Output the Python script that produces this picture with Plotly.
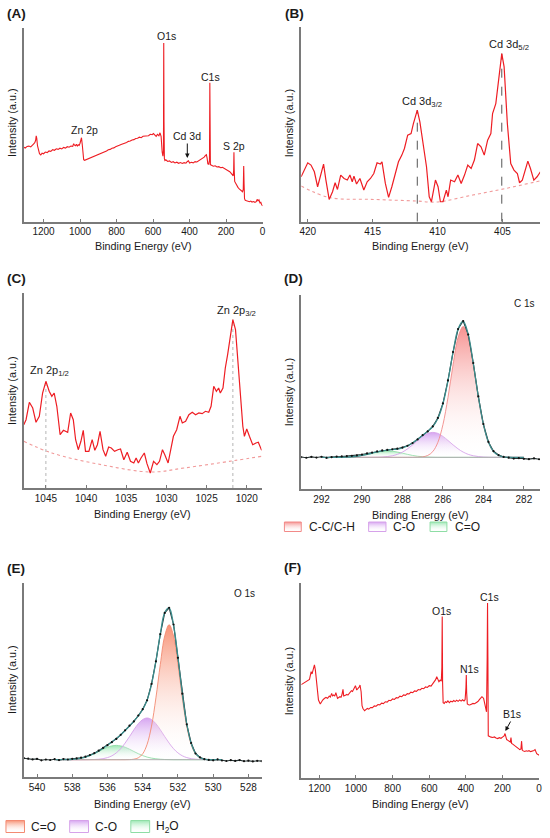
import plotly.graph_objects as go

W, H = 550, 838
FONT = "Liberation Sans, Arial, sans-serif"
RED = "#ee1d23"
AXIS = "#7a7a7a"
TXT = "#1a1a1a"

# ---------------- data ----------------
# (A) survey spectrum, binding energy (eV) / intensity (a.u.)
A_E = [1308, 1300, 1290, 1280, 1270, 1262, 1255, 1248, 1243, 1240,
       1237, 1233, 1228, 1222, 1215, 1208, 1200, 1190, 1180, 1170,
       1160, 1150, 1140, 1130, 1120, 1110, 1100, 1090, 1080, 1070,
       1060, 1050, 1040, 1035, 1030, 1025, 1020, 1015, 1010, 1005,
       1000, 996, 992, 988, 984, 980, 975, 965, 955, 945,
       935, 925, 915, 905, 895, 885, 875, 865, 855, 845,
       835, 825, 815, 805, 795, 785, 775, 765, 755, 745,
       735, 725, 715, 705, 695, 685, 675, 665, 655, 645,
       635, 625, 615, 605, 598, 590, 583, 576, 568, 562,
       556, 550, 546, 543, 541.5, 540, 538, 535, 530, 520,
       510, 500, 490, 480, 470, 460, 450, 440, 430, 420,
       412, 406, 400, 390, 380, 370, 360, 350, 340, 330,
       320, 313, 308, 304, 300, 295, 291, 289, 287.5, 286,
       280, 270, 260, 250, 240, 230, 220, 210, 200, 190,
       180, 172, 166, 161, 158.5, 157, 155.5, 153, 148, 142,
       135, 128, 122, 116, 110, 106, 103.5, 101.5, 99, 95,
       88, 80, 72, 65, 58, 50, 42, 35, 30, 25,
       20, 15, 10, 5, 0]
A_I = [75.0, 74.2, 75.8, 76.1, 75.3, 77.4, 78.2, 79.5, 82.0, 86.5,
       84.0, 76.5, 71.0, 68.5, 67.2, 69.0, 68.4, 70.1, 69.6, 71.2,
       70.8, 72.5, 71.9, 73.4, 72.8, 74.0, 73.3, 74.8, 74.1, 75.5,
       75.0, 76.2, 75.8, 78.5, 77.0, 76.5, 78.0, 76.2, 77.5, 76.8,
       79.0, 82.5, 84.5, 78.0, 66.0, 62.5, 61.8, 62.6, 63.1, 64.0,
       64.5, 65.8, 66.2, 67.5, 67.9, 69.0, 69.6, 70.4, 71.2, 72.5,
       72.8, 74.0, 74.3, 75.5, 76.0, 76.9, 77.8, 78.3, 79.4, 79.8,
       80.9, 81.2, 82.3, 82.6, 83.8, 84.0, 85.1, 84.6, 86.0, 86.2,
       87.0, 86.5, 88.0, 87.6, 88.8, 87.0, 86.0, 88.0, 86.5, 89.5,
       86.0, 70.0, 66.0, 72.0, 180.0, 100.0, 63.5, 61.5, 62.3, 60.6,
       61.2, 59.7, 60.4, 59.1, 59.9, 58.8, 59.6, 58.6, 59.4, 58.9,
       60.6, 61.4, 59.1, 59.8, 59.2, 60.5, 60.1, 61.3, 62.0, 63.2,
       65.0, 66.8, 67.5, 64.0, 58.2, 57.8, 62.0, 140.0, 75.0, 57.5,
       56.8, 55.9, 56.3, 55.1, 55.4, 54.3, 54.7, 53.6, 53.2, 51.6,
       50.3, 48.6, 47.3, 46.2, 52.0, 70.0, 52.0, 40.5, 38.6, 36.2,
       34.6, 33.1, 32.3, 31.4, 30.2, 32.5, 56.0, 38.0, 23.2, 21.6,
       21.1, 20.4, 20.1, 20.8, 19.8, 20.3, 19.5, 20.2, 22.5, 21.0,
       22.0, 19.2, 19.6, 17.0, 16.0]

# (B) Cd 3d high resolution
B_E = [420.51, 420.25, 420.0, 419.75, 419.49, 419.24, 418.98, 418.78, 418.6, 418.35,
       418.09, 417.89, 417.71, 417.46, 417.2, 416.95, 416.75, 416.57, 416.44, 416.24,
       415.98, 415.68, 415.42, 415.17, 414.91, 414.66, 414.41, 414.28, 414.02, 413.77,
       413.52, 413.26, 413.01, 412.75, 412.55, 412.3, 412.04, 411.86, 411.56, 411.36,
       411.1, 410.85, 410.64, 410.47, 410.16, 409.96, 409.78, 409.58, 409.32, 409.19,
       408.99, 408.69, 408.43, 408.18, 407.92, 407.67, 407.41, 407.16, 406.91, 406.65,
       406.4, 406.14, 405.89, 405.76, 405.51, 405.25, 405.05, 404.87, 404.62, 404.36,
       404.11, 403.85, 403.68, 403.47, 403.27, 403.04, 402.84, 402.58, 402.33, 402.07]
B_I = [45.0, 51.7, 59.0, 56.7, 50.0, 35.0, 48.3, 57.7, 41.7, 22.3,
       30.0, 39.0, 32.3, 46.7, 43.3, 41.7, 46.7, 40.0, 45.7, 37.7,
       43.3, 31.7, 40.0, 43.3, 48.3, 59.0, 57.7, 60.0, 38.3, 24.3,
       35.0, 46.7, 60.0, 66.7, 73.3, 86.7, 88.3, 98.3, 111.7, 100.0,
       78.3, 55.0, 25.0, 20.0, 41.7, 35.0, 20.0, 20.0, 31.7, 25.0,
       41.7, 40.0, 46.7, 38.3, 46.7, 56.7, 53.3, 61.7, 78.3, 75.0,
       66.7, 81.7, 88.3, 108.3, 118.3, 148.3, 168.3, 155.0, 98.3, 58.3,
       51.7, 48.3, 39.0, 41.7, 51.7, 60.7, 53.3, 41.7, 45.0, 50.0]
B_BG_E = [420.51, 418.35, 414.91, 411.61, 410.08, 407.29, 404.74, 402.07]
B_BG_I = [35.7, 24.3, 22.3, 20.7, 19.7, 26.7, 33.3, 41.0]
B_PEAK_E = [411.56, 405.05]

# (C) Zn 2p high resolution
C_E = [1047.75, 1047.47, 1047.06, 1046.64, 1046.23, 1045.82, 1045.41, 1045.0, 1044.59, 1044.26,
       1043.97, 1043.64, 1043.23, 1042.82, 1042.29, 1041.92, 1041.59, 1041.3, 1040.97, 1040.64,
       1040.35, 1040.07, 1039.65, 1039.24, 1038.91, 1038.59, 1038.26, 1037.89, 1037.56, 1037.19,
       1036.86, 1036.45, 1036.04, 1035.71, 1035.3, 1034.88, 1034.47, 1034.06, 1033.77, 1033.49,
       1033.16, 1032.75, 1032.42, 1032.01, 1031.6, 1031.18, 1030.86, 1030.49, 1030.2, 1029.79,
       1029.46, 1029.13, 1028.72, 1028.31, 1028.02, 1027.61, 1027.2, 1026.78, 1026.37, 1025.96,
       1025.55, 1025.14, 1024.73, 1024.44, 1024.11, 1023.78, 1023.5, 1023.29, 1022.96, 1022.67,
       1022.38, 1022.06, 1021.73, 1021.4, 1021.15, 1020.82, 1020.49, 1020.29, 1020.0, 1019.67,
       1019.26, 1018.85, 1018.56, 1018.15]
C_I = [63.3, 68.3, 85.7, 80.0, 65.7, 71.7, 95.0, 106.7, 96.7, 91.7,
       95.0, 81.7, 53.3, 57.7, 55.7, 75.0, 68.3, 48.3, 38.3, 46.7,
       57.7, 36.7, 36.7, 48.3, 37.7, 43.3, 56.7, 38.3, 31.7, 41.0,
       40.0, 36.7, 38.3, 39.0, 28.3, 35.7, 26.7, 25.0, 30.0, 25.0,
       30.0, 35.0, 24.3, 15.0, 26.7, 23.3, 26.7, 38.3, 33.3, 25.0,
       38.3, 51.7, 58.3, 71.7, 65.0, 66.7, 73.3, 75.7, 73.3, 75.0,
       74.3, 76.7, 75.7, 81.7, 101.7, 96.7, 100.0, 95.0, 100.0, 120.0,
       133.3, 153.3, 168.3, 158.3, 131.7, 91.7, 61.7, 51.7, 59.0, 51.7,
       43.3, 45.0, 45.7, 37.7]
C_BG_E = [1047.75, 1044.26, 1038.09, 1031.92, 1027.81, 1021.64, 1018.15]
C_BG_I = [46.7, 35.0, 23.3, 16.0, 20.0, 27.3, 31.7]
C_PEAK_E = [1045.0, 1021.73]

# (D) C 1s, intensities above the background line
D_RAW_E = [293.0, 292.75, 292.5, 292.25, 292.0, 291.75, 291.5, 291.25, 291.0, 290.75,
           290.5, 290.25, 290.0, 289.75, 289.5, 289.25, 289.0, 288.75, 288.5, 288.25,
           288.0, 287.75, 287.5, 287.25, 287.0, 286.75, 286.5, 286.25, 286.0, 285.75,
           285.5, 285.25, 285.0, 284.75, 284.5, 284.25, 284.0, 283.75, 283.5, 283.25,
           283.0, 282.75, 282.5, 282.25, 282.0, 281.75, 281.5, 281.25]
D_RAW_I = [0.3, -0.4, 0.5, -0.2, 0.6, -0.5, 0.2, 0.8, 0.9, 1.2,
           1.5, 2.0, 2.8, 3.9, 4.8, 6.0, 6.9, 7.4, 8.1, 8.7,
           9.8, 11.6, 14.3, 18.0, 22.3, 26.0, 31.0, 39.5, 54.0, 77.0,
           105.5, 128.5, 136.5, 123.0, 94.5, 61.0, 33.3, 15.4, 6.2, 2.3,
           0.4, -0.3, -1.2, -0.8, -1.5, -1.8, -1.0, -1.9]
D_FIT_E = [292.0, 291.75, 291.5, 291.25, 291.0, 290.75, 290.5, 290.25, 290.0, 289.75,
           289.5, 289.25, 289.0, 288.75, 288.5, 288.25, 288.0, 287.75, 287.5, 287.25,
           287.0, 286.75, 286.5, 286.25, 286.0, 285.75, 285.5, 285.25, 285.0, 284.75,
           284.5, 284.25, 284.0, 283.75, 283.5, 283.25, 283.0, 282.75, 282.5, 282.25,
           282.0]
D_CC = [0, 0, 0, 0, 0, 0, 0, 0, 0, 0,
        0, 0, 0, 0, 0, 0, 0, 0, 0, 0.1,
        0.5, 1.9, 5.8, 15.0, 32.7, 60.0, 92.6, 120.1, 131.0, 120.1,
        92.6, 60.0, 32.7, 15.0, 5.8, 1.9, 0.5, 0.1, 0, 0,
        0]
D_CO = [0, 0, 0, 0, 0, 0, 0, 0, 0, 0,
        0, 0.1, 0.3, 0.8, 1.6, 3.0, 5.3, 8.5, 12.5, 16.9,
        21.0, 24.0, 25.0, 24.0, 21.0, 16.9, 12.5, 8.5, 5.3, 3.0,
        1.6, 0.8, 0.3, 0.1, 0, 0, 0, 0, 0, 0,
        0]
D_CDO = [0, 0, 0, 0, 0.1, 0.3, 0.6, 1.1, 1.9, 3.0,
         4.2, 5.3, 6.2, 6.5, 6.2, 5.3, 4.2, 3.0, 1.9, 1.1,
         0.6, 0.3, 0.1, 0, 0, 0, 0, 0, 0, 0,
         0, 0, 0, 0, 0, 0, 0, 0, 0, 0,
         0]
D_BG_E = [290.9, 282.9]
D_BG_I = [0, 0]

# (E) O 1s, intensities above the background line
E_RAW_E = [540.75, 540.5, 540.25, 540.0, 539.75, 539.5, 539.25, 539.0, 538.75, 538.5,
           538.25, 538.0, 537.75, 537.5, 537.25, 537.0, 536.75, 536.5, 536.25, 536.0,
           535.75, 535.5, 535.25, 535.0, 534.75, 534.5, 534.25, 534.0, 533.75, 533.5,
           533.25, 533.0, 532.75, 532.5, 532.25, 532.0, 531.75, 531.5, 531.25, 531.0,
           530.75, 530.5, 530.25, 530.0, 529.75, 529.5, 529.25, 529.0, 528.75, 528.5,
           528.25, 528.0, 527.75, 527.5, 527.25]
E_RAW_I = [1.5, 1.0, 0.3, 0.8, -0.6, 0.2, -0.3, 0.5, -0.4, 0.6,
           0.2, 0.9, 1.3, 2.0, 3.0, 4.6, 6.5, 9.0, 11.8, 14.5,
           17.5, 20.8, 24.9, 29.4, 34.0, 38.3, 44.2, 50.5, 59.4, 75.8,
           98.4, 125.5, 146.8, 151.9, 135.2, 101.9, 66.0, 35.4, 16.7, 6.2,
           2.4, 0.5, -0.2, -0.6, 0.3, -0.8, -1.3, -0.5, -1.2, -0.4,
           -1.5, -1.0, -1.7, -1.1, -1.4]
E_FIT_E = [539.0, 538.75, 538.5, 538.25, 538.0, 537.75, 537.5, 537.25, 537.0, 536.75,
           536.5, 536.25, 536.0, 535.75, 535.5, 535.25, 535.0, 534.75, 534.5, 534.25,
           534.0, 533.75, 533.5, 533.25, 533.0, 532.75, 532.5, 532.25, 532.0, 531.75,
           531.5, 531.25, 531.0, 530.75, 530.5, 530.25, 530.0, 529.75, 529.5]
E_CDO = [0, 0, 0, 0, 0, 0, 0, 0, 0, 0,
         0, 0, 0, 0, 0, 0, 0, 0.1, 0.5, 1.9,
         5.9, 15.4, 33.6, 61.8, 95.4, 123.8, 135.0, 123.8, 95.4, 61.8,
         33.6, 15.4, 5.9, 1.9, 0.5, 0.1, 0, 0, 0]
E_CO = [0, 0, 0, 0, 0, 0, 0, 0, 0.1, 0.2,
        0.5, 1.0, 2.1, 3.9, 6.8, 11.0, 16.6, 23.1, 29.9, 36.0,
        40.2, 41.7, 40.2, 36.0, 29.9, 23.1, 16.6, 11.0, 6.8, 3.9,
        2.1, 1.0, 0.5, 0.2, 0.1, 0, 0, 0, 0]
E_H2O = [0, 0, 0.1, 0.2, 0.45, 0.9, 1.6, 2.6, 4.1, 6.0,
         8.2, 10.5, 12.5, 13.8, 14.3, 13.8, 12.5, 10.5, 8.2, 6.0,
         4.1, 2.6, 1.6, 0.9, 0.45, 0.2, 0.1, 0, 0, 0,
         0, 0, 0, 0, 0, 0, 0, 0, 0]
E_BG_E = [538.4, 530.3]
E_BG_I = [0, 0]

# (F) survey spectrum
F_E = [1299, 1290, 1281, 1272, 1263, 1254, 1245, 1240, 1232, 1227,
       1222, 1214, 1205, 1195, 1188, 1182, 1173, 1164, 1155, 1146,
       1140, 1133, 1128, 1122, 1116, 1110, 1101, 1094, 1088, 1082,
       1077, 1071, 1067, 1058, 1050, 1044, 1038, 1031, 1025, 1019,
       1014, 1008, 1003, 996, 991, 987, 982, 978, 972, 967,
       962, 953, 945, 938, 930, 920, 910, 900, 890, 880,
       870, 860, 850, 840, 830, 820, 810, 800, 790, 780,
       770, 760, 750, 740, 730, 720, 710, 700, 690, 680,
       670, 660, 650, 640, 630, 620, 610, 600, 590, 580,
       572, 565, 559, 553, 547, 540, 534, 531, 529, 527,
       524, 518, 512, 505, 498, 490, 482, 474, 466, 458,
       450, 442, 434, 426, 418, 410, 404, 399.5, 397.5, 395.5,
       392, 385, 379, 370, 361, 352, 343, 334, 325, 318,
       312, 307, 303, 298, 294, 290, 287, 283.5, 281.5, 279.5,
       277.5, 270, 262, 253, 244, 235, 226, 217, 208, 198,
       191, 186, 181, 177, 170, 162, 157, 153.5, 150, 144,
       135, 126, 116, 105, 99, 95.5, 92, 87, 78, 70,
       63, 55, 46, 36, 28, 22, 17, 13, 6, 0]
F_I = [93.0, 94.2, 95.1, 96.3, 97.0, 98.3, 106.0, 103.7, 109.3, 112.7,
       107.7, 91.0, 77.7, 73.7, 76.0, 77.7, 79.2, 80.3, 79.5, 81.7,
       80.6, 84.3, 81.8, 82.7, 81.5, 85.0, 79.3, 80.2, 81.0, 80.4,
       82.7, 88.3, 81.7, 82.5, 83.3, 82.6, 84.3, 85.4, 87.0, 86.2,
       88.3, 89.5, 92.0, 87.7, 88.6, 89.3, 90.8, 92.7, 86.0, 72.0,
       69.3, 67.0, 68.4, 69.3, 68.6, 70.3, 70.1, 71.8, 71.5, 73.2,
       72.9, 74.6, 74.2, 76.0, 75.6, 77.4, 77.0, 78.8, 78.3, 80.1,
       79.7, 81.5, 81.0, 82.8, 82.4, 84.1, 83.7, 85.5, 85.0, 86.8,
       86.4, 88.1, 87.7, 89.4, 89.0, 90.7, 90.2, 92.0, 91.6, 93.8,
       95.5, 98.0, 101.0, 97.5, 96.0, 97.5, 96.5, 110.0, 161.0, 95.0,
       75.0, 74.2, 76.0, 75.3, 76.8, 75.0, 76.5, 75.8, 77.2, 76.1,
       77.5, 76.4, 77.8, 76.6, 77.9, 76.8, 78.0, 90.0, 102.7, 85.0,
       73.7, 73.0, 72.7, 73.5, 74.3, 74.0, 75.0, 76.2, 78.3, 79.5,
       81.0, 80.2, 79.3, 75.0, 71.0, 68.5, 66.0, 120.0, 174.3, 120.0,
       42.0, 41.2, 40.7, 40.3, 40.9, 39.8, 39.3, 40.2, 39.6, 41.0,
       42.0, 44.3, 40.0, 38.3, 37.5, 36.0, 35.8, 40.3, 34.5, 33.7,
       32.4, 31.0, 30.2, 28.3, 29.0, 36.7, 28.0, 27.0, 26.4, 27.1,
       26.7, 27.2, 26.3, 26.7, 27.5, 28.3, 26.0, 24.3, 23.5, 22.7]

SURVEY_TICKS = [0, 200, 400, 600, 800, 1000, 1200]


def fx(p):
    return p / W


def fy(p):
    return 1 - p / H


fig = go.Figure()

# panel geometry in pixels: (left, right, top, bottom), x range, y range, ticks
panels = [
    ((22, 263, 28, 221.7), [1308, 0], [0, 195], SURVEY_TICKS),
    ((302, 543, 27, 221.7), [420.5, 402.1], [0, 195], [405, 410, 415, 420]),
    ((22, 262, 293, 488), [1047.75, 1018.15], [0, 195], [1020, 1025, 1030, 1035, 1040, 1045]),
    ((302, 543, 295, 489), [293.0, 281.2], [-31.7, 162.6], [282, 284, 286, 288, 290, 292]),
    ((22, 262, 583, 777), [540.75, 527.25], [-17.3, 176.7], [528, 530, 532, 534, 536, 538, 540]),
    ((302, 542, 583, 778), [1299, 0], [0, 194.3], SURVEY_TICKS),
]

layout_axes = {}
for i, (box, xr, yr, tv) in enumerate(panels, start=1):
    l, r, t, b = box
    sfx = "" if i == 1 else str(i)
    layout_axes["xaxis" + sfx] = dict(
        domain=[fx(l), fx(r)], range=xr, tickvals=tv, ticks="inside", ticklen=3,
        tickcolor=AXIS, tickwidth=1, showline=True, linecolor=AXIS, linewidth=1.5,
        showgrid=False, zeroline=False, anchor="y" + sfx,
        tickfont=dict(size=10, color=TXT, family=FONT))
    layout_axes["yaxis" + sfx] = dict(
        domain=[fy(b), fy(t)], range=yr, showline=True, linecolor=AXIS, linewidth=1.5,
        showticklabels=False, ticks="", showgrid=False, zeroline=False,
        anchor="x" + sfx)

# overlay pixel axes for legend swatches
layout_axes["xaxis7"] = dict(domain=[0, 1], range=[0, W], visible=False, anchor="y7")
layout_axes["yaxis7"] = dict(domain=[0, 1], range=[0, H], visible=False, anchor="x7")

# (A)
fig.add_trace(go.Scatter(x=A_E, y=A_I, mode="lines", line=dict(color=RED, width=1.1),
                         xaxis="x", yaxis="y"))

# (B)
fig.add_trace(go.Scatter(x=B_BG_E, y=B_BG_I, mode="lines", line_shape="spline",
                         line=dict(color="#f19a9a", width=1.1, dash="dot"),
                         xaxis="x2", yaxis="y2"))
for pe in B_PEAK_E:
    top = B_I[B_E.index(pe)]
    fig.add_trace(go.Scatter(x=[pe, pe], y=[0, top], mode="lines",
                             line=dict(color="#555555", width=1, dash="dash"),
                             xaxis="x2", yaxis="y2"))
fig.add_trace(go.Scatter(x=B_E, y=B_I, mode="lines", line=dict(color=RED, width=1.2),
                         xaxis="x2", yaxis="y2"))

# (C)
fig.add_trace(go.Scatter(x=C_BG_E, y=C_BG_I, mode="lines", line_shape="spline",
                         line=dict(color="#f19a9a", width=1.1, dash="dot"),
                         xaxis="x3", yaxis="y3"))
for pe in C_PEAK_E:
    top = C_I[C_E.index(pe)]
    fig.add_trace(go.Scatter(x=[pe, pe], y=[0, top], mode="lines",
                             line=dict(color="#b5b5b5", width=1, dash="dot"),
                             xaxis="x3", yaxis="y3"))
fig.add_trace(go.Scatter(x=C_E, y=C_I, mode="lines", line=dict(color=RED, width=1.2),
                         xaxis="x3", yaxis="y3"))


def add_fit(xa, ya, fit_e, comps, bg_e, bg_i, raw_e, raw_i):
    for vals, fill_col, line_col in comps:
        fig.add_trace(go.Scatter(
            x=fit_e, y=vals, mode="lines", line_shape="spline", fill="tozeroy",
            fillgradient=dict(type="vertical",
                              colorscale=[[0, "rgba(255,255,255,0)"], [1, fill_col]]),
            line=dict(color=line_col, width=0.9), xaxis=xa, yaxis=ya))
    fig.add_trace(go.Scatter(x=bg_e, y=bg_i, mode="lines",
                             line=dict(color="#b0b0b0", width=1), xaxis=xa, yaxis=ya))
    fig.add_trace(go.Scatter(x=raw_e, y=raw_i, mode="lines",
                             line=dict(color="#263434", width=1.1), xaxis=xa, yaxis=ya))
    env = [sum(v) for v in zip(*[c[0] for c in comps])]
    fig.add_trace(go.Scatter(x=fit_e, y=env, mode="lines", line_shape="spline",
                             line=dict(color="#3b8c8c", width=1.3), xaxis=xa, yaxis=ya))
    fig.add_trace(go.Scatter(x=raw_e, y=raw_i, mode="markers",
                             marker=dict(color="#111111", size=2.2), xaxis=xa, yaxis=ya))


PINK_D = ("rgba(245,140,138,0.95)", "#f28a88")
ORANGE_E = ("rgba(247,140,110,0.95)", "#f38a72")
VIOLET = ("rgba(212,160,240,0.95)", "#d6a2ea")
MINT = ("rgba(150,230,175,0.95)", "#8edda5")

# (D)
add_fit("x4", "y4", D_FIT_E,
        [(D_CDO, *MINT), (D_CO, *VIOLET), (D_CC, *PINK_D)],
        D_BG_E, D_BG_I, D_RAW_E, D_RAW_I)
# (E)
add_fit("x5", "y5", E_FIT_E,
        [(E_H2O, *MINT), (E_CO, *VIOLET), (E_CDO, *ORANGE_E)],
        E_BG_E, E_BG_I, E_RAW_E, E_RAW_I)

# (F)
fig.add_trace(go.Scatter(x=F_E, y=F_I, mode="lines", line=dict(color=RED, width=1.1),
                         xaxis="x6", yaxis="y6"))

# legend swatches (pixel coordinates)
swatches = [
    ((285, 302, 522, 531.5), PINK_D),
    ((370, 387.5, 522, 531.5), VIOLET),
    ((432, 449, 522, 531.5), MINT),
    ((4, 22.7, 820.5, 832.5), ORANGE_E),
    ((68.3, 87.3, 820.5, 832.5), VIOLET),
    ((130, 149, 820.5, 832.5), MINT),
]
for (x0, x1, y0, y1), (fc, lc) in swatches:
    fig.add_trace(go.Scatter(
        x=[x0, x1, x1, x0, x0], y=[H - y1, H - y1, H - y0, H - y0, H - y1],
        mode="lines", fill="toself",
        fillgradient=dict(type="vertical", colorscale=[[0, "rgba(255,255,255,0)"], [1, fc]]),
        line=dict(color=lc, width=1), xaxis="x7", yaxis="y7"))

annotations = []


def ann(text, x, y, size=10.5, xanchor="center", bold=False, angle=0):
    annotations.append(dict(
        text="<b>%s</b>" % text if bold else text, x=fx(x), y=fy(y),
        xref="paper", yref="paper", showarrow=False, xanchor=xanchor, yanchor="middle",
        textangle=angle, font=dict(size=size, color=TXT, family=FONT)))


# panel letters
for lab, x, y in [("(A)", 3, 13.5), ("(B)", 283.5, 13.5), ("(C)", 3, 278.5),
                  ("(D)", 283, 278.5), ("(E)", 3, 568.5), ("(F)", 283, 567)]:
    ann(lab, x, y, size=13.5, xanchor="left", bold=True)

# axis titles
for x, y in [(142.5, 246.5), (422.5, 246.5), (142, 514), (422.5, 515), (142, 803.5), (422, 803.5)]:
    ann("Binding Energy (eV)", x, y, size=10.8)
for x, y in [(10, 123), (290, 123), (10, 391), (290, 392), (10, 680), (290, 681)]:
    ann("Intensity (a.u.)", x, y, size=10.8, angle=-90)

# peak labels
ann("O1s", 166, 36)
ann("C1s", 210, 77)
ann("Zn 2p", 83, 130)
ann("Cd 3d", 187, 136)
ann("S 2p", 234, 146)
ann("Cd 3d<sub>3/2</sub>", 424, 102, size=11)
ann("Cd 3d<sub>5/2</sub>", 512, 45, size=11)
ann("Zn 2p<sub>1/2</sub>", 48, 371, size=11)
ann("Zn 2p<sub>3/2</sub>", 237, 311, size=11)
ann("C 1s", 527, 303, size=10)
ann("O 1s", 245, 593, size=10)
ann("O1s", 444, 611)
ann("C1s", 492, 597)
ann("N1s", 472, 669)
ann("B1s", 515, 714)

# legend labels
for text, x, y in [("C-C/C-H", 308, 527), ("C-O", 393, 527), ("C=O", 455, 527),
                   ("C=O", 27, 826.5), ("C-O", 92, 826.5), ("H<sub>2</sub>O", 153, 826.5)]:
    ann(text, x, y, size=12, xanchor="left")

# arrows
for x, y, ax, ay in [(187, 158, 0, -16), (508, 731, 6, -11)]:
    annotations.append(dict(
        text="", x=fx(x), y=fy(y), xref="paper", yref="paper", showarrow=True,
        ax=ax, ay=ay, arrowhead=2, arrowsize=0.9, arrowwidth=1, arrowcolor="#111111"))

fig.update_layout(
    width=W, height=H, margin=dict(l=0, r=0, t=0, b=0),
    paper_bgcolor="white", plot_bgcolor="rgba(0,0,0,0)",
    showlegend=False, annotations=annotations,
    font=dict(family=FONT, color=TXT),
    **layout_axes)

fig.write_html("out.html", config={"displayModeBar": False},
               post_script="document.body.style.margin='0';"
                           "document.body.style.overflow='hidden';")
